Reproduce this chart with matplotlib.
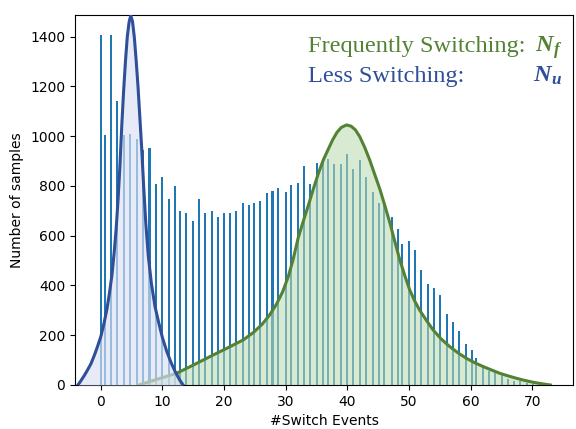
"""Histogram of switch events with fitted curves for the two switching groups."""

import matplotlib

matplotlib.use("Agg")
import matplotlib.pyplot as plt

# histogram bars: bin position and number of samples
bin_pos = [0.05, 0.76, 1.73, 2.70, 3.78, 4.81, 5.90, 6.90, 7.90, 8.97,
           10.0, 11.0, 12.1, 12.8, 13.8, 14.9, 15.9, 16.9, 18.0, 19.0,
           19.95, 21.0, 22.0, 23.0, 24.1, 24.8, 25.8, 26.9, 27.85, 28.8,
           29.96, 30.9, 31.95, 33.0, 34.0, 35.1, 36.06, 36.8, 37.8, 38.9,
           39.9, 40.9, 42.0, 43.0, 44.1, 45.1, 46.0, 47.2, 48.2, 48.9,
           50.0, 51.0, 52.0, 53.0, 54.0, 55.0, 56.1, 57.1, 58.1, 59.2,
           60.2, 60.9, 62.0, 63.0, 64.0, 65.0, 66.1, 67.0, 68.0, 69.1,
           70.1, 71.1]
counts = [1408, 1005, 1408, 1142, 1005, 1009, 989, 945, 954, 808,
          834, 748, 801, 699, 693, 659, 748, 693, 699, 675,
          693, 693, 699, 733, 725, 732, 740, 772, 781, 792,
          777, 804, 812, 880, 808, 894, 907, 907, 888, 888,
          929, 868, 905, 836, 776, 730, 724, 675, 627, 567,
          578, 543, 462, 407, 390, 362, 285, 254, 218, 165,
          141, 108, 80, 57, 52, 44, 25, 16, 15, 7,
          4, 3]

# fitted curve for the less switching group (N_u)
less_x = [-3.7, -3.2, -2.7, -2.2, -1.6, -1.0, -0.5, 0.0, 0.5, 1.0,
          1.4, 1.8, 2.2, 2.5, 2.8, 3.1, 3.4, 3.7, 4.0, 4.3,
          4.6, 4.87, 5.15, 5.45, 5.75, 6.05, 6.35, 6.65, 6.95, 7.3,
          7.7, 8.2, 8.8, 9.4, 10.0, 10.7, 11.4, 12.1, 12.8, 13.35]
less_y = [0, 18, 37, 58, 85, 122, 157, 194, 245, 305,
          368, 440, 540, 630, 744, 878, 1040, 1180, 1300, 1400,
          1460, 1485, 1460, 1395, 1300, 1195, 1070, 945, 800, 650,
          520, 409, 315, 250, 190, 135, 90, 52, 20, 0]

# fitted curve for the frequently switching group (N_f)
freq_x = [6.2, 9.0, 12.3, 15.0, 17.7, 20.4, 23.1, 24.8, 26.2, 27.4,
          28.5, 29.5, 30.4, 31.2, 32.0, 32.8, 33.7, 34.5, 35.3, 36.1,
          36.9, 37.6, 38.3, 39.0, 39.85, 40.6, 41.3, 42.0, 42.8, 43.6,
          44.4, 45.3, 46.1, 46.9, 47.7, 48.5, 49.3, 50.1, 50.9, 51.7,
          52.8, 53.9, 55.2, 56.6, 58.0, 59.3, 60.6, 62.0, 63.4, 64.7,
          66.0, 67.4, 68.8, 70.1, 71.5, 72.9]
freq_y = [0, 22, 47, 80, 114, 147, 181, 212, 245, 282,
          325, 375, 435, 505, 590, 655, 725, 790, 851, 905,
          948, 985, 1015, 1035, 1045, 1040, 1025, 998, 955, 905,
          848, 784, 718, 650, 575, 502, 440, 382, 338, 301,
          260, 221, 185, 154, 128, 107, 90, 74, 60, 47,
          37, 27, 18, 11, 5, 0]

GREEN = "#548235"
BLUE = "#2f4f98"

plt.rcParams["mathtext.fontset"] = "custom"
plt.rcParams["mathtext.bf"] = "Liberation Serif:bold:italic"
plt.rcParams["mathtext.rm"] = "Liberation Serif"

fig = plt.figure(figsize=(5.76, 4.29), dpi=100)
ax = fig.add_axes([0.130, 0.1026, 0.865, 0.8625])

ax.bar(bin_pos, counts, width=0.33, color="#1f77b4", zorder=1)

ax.fill_between(freq_x, freq_y, color="#bcdab1", alpha=0.57, lw=0, zorder=2)
ax.plot(freq_x, freq_y, color=GREEN, lw=2.2, zorder=3)
ax.fill_between(less_x, less_y, color="#dbe1f4", alpha=0.65, lw=0, zorder=4)
ax.plot(less_x, less_y, color=BLUE, lw=2.2, zorder=5)

ax.set_xlim(-4.2, 76.6)
ax.set_ylim(0, 1487)
ax.set_xticks(range(0, 71, 10))
ax.set_yticks(range(0, 1401, 200))
ax.tick_params(labelsize=10)
ax.set_xlabel("#Switch Events", fontsize=10)
ax.set_ylabel("Number of samples", fontsize=10)

serif = "Liberation Serif"
ax.text(0.468, 0.90, "Frequently Switching:", transform=ax.transAxes,
        fontsize=17.6, family=serif, color=GREEN, va="baseline", zorder=6)
ax.text(0.978, 0.90, r"$\mathbf{N_f}$", transform=ax.transAxes,
        fontsize=17.6, color=GREEN, va="baseline", ha="right", zorder=6)
ax.text(0.468, 0.82, "Less Switching:", transform=ax.transAxes,
        fontsize=17.6, family=serif, color=BLUE, va="baseline", zorder=6)
ax.text(0.978, 0.82, r"$\mathbf{N_u}$", transform=ax.transAxes,
        fontsize=17.6, color=BLUE, va="baseline", ha="right", zorder=6)

fig.savefig("out.png", dpi=100)
